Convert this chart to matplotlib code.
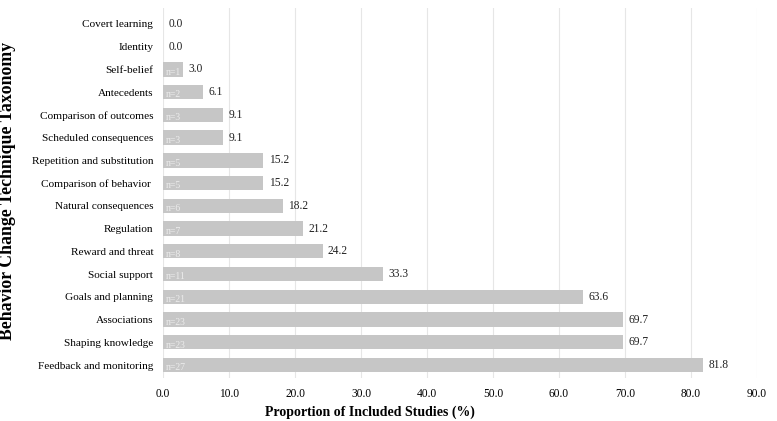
import numpy as np
import matplotlib
matplotlib.use('Agg')
import matplotlib.pyplot as plt

categories = ['Feedback and monitoring', 'Shaping knowledge', 'Associations', 'Goals and planning',
              'Social support', 'Reward and threat', 'Regulation', 'Natural consequences',
              'Comparison of behavior ', 'Repetition and substitution', 'Scheduled consequences',
              'Comparison of outcomes', 'Antecedents', 'Self-belief', 'Identity', 'Covert learning']
counts = [27, 23, 23, 21, 11, 8, 7, 6, 5, 5, 3, 3, 2, 1, 0, 0]
percent = [81.8, 69.7, 69.7, 63.6, 33.3, 24.2, 21.2, 18.2, 15.2, 15.2, 9.1, 9.1, 6.1, 3.0, 0.0, 0.0]
xticks = [0, 10, 20, 30, 40, 50, 60, 70, 80, 90]

plt.rcParams['font.family'] = ['Liberation Serif', 'DejaVu Serif']

fig = plt.figure(figsize=(7.77, 4.21), dpi=100)
ax = fig.add_axes([163 / 777, 43 / 421, 594 / 777, 370 / 421])

y = np.arange(len(categories))
ax.barh(y, percent, height=0.63, color='#c6c6c6', zorder=2)

for yi, p, n in zip(y, percent, counts):
    ax.text(p + 0.8, yi, f'{p:.1f}', va='center', ha='left', fontsize=8.3, color='#222222')
    if n > 0:
        ax.text(0.35, yi - 0.12, f'n={n}', va='center', ha='left', fontsize=7, color='#ececec', zorder=3)

ax.set_yticks(y)
ax.set_yticklabels(categories, fontsize=8.1)
ax.set_xticks(xticks)
ax.set_xticklabels([f'{t:.1f}' for t in xticks], fontsize=8.3)
ax.set_xlim(0, 90)
ax.set_ylim(-0.57, 15.7)

ax.grid(axis='x', color='#e6e6e6', linewidth=0.8, zorder=0)
ax.tick_params(axis='y', length=0, pad=7)
ax.tick_params(axis='x', length=0, pad=7)
for s in ax.spines.values():
    s.set_visible(False)

# axis titles placed like the reference (x title is left of the axes centre)
fig.text(370 / 777, 9 / 421, 'Proportion of Included Studies (%)', ha='center', va='center',
         fontsize=10, fontweight='bold')
fig.text(8 / 777, 1 - 191 / 421, 'Behavior Change Technique Taxonomy', ha='center', va='center',
         rotation=90, fontsize=12.8, fontweight='bold')

fig.savefig('out.png', dpi=100)
